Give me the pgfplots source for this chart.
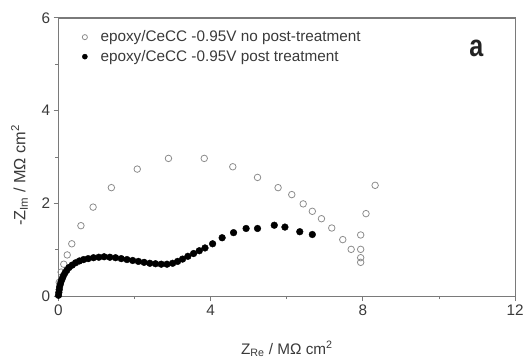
\documentclass[border=0pt]{standalone}
\usepackage{pgfplots}
\pgfplotsset{compat=1.18}
\usepackage{fontspec}
\setmainfont{Liberation Sans}
\definecolor{axgray}{HTML}{7A7A7A}
\definecolor{txtgray}{HTML}{3A3A3A}
\definecolor{opengray}{HTML}{8C8C8C}
\pgfplotsset{myleg/.style={legend image code/.code={\path (0cm,0cm) (0.78cm,0cm); \draw[mark repeat=2,mark phase=2,##1,mark size=2.6bp] plot coordinates {(0cm,0cm) (0.3cm,0cm) (0.6cm,0cm)};}}}
\begin{document}
\begin{tikzpicture}
\begin{axis}[
  scale only axis,
  width=461bp, height=281bp,
  xmin=0, xmax=12, ymin=0, ymax=6,
  xtick={0,4,8,12}, ytick={0,2,4,6},
  minor x tick num=1, minor y tick num=1,
  xtick pos=left, ytick pos=left,
  tick align=outside,
  major tick length=5bp, minor tick length=3bp,
  axis line style={axgray, line width=1.4bp},
  every tick/.style={axgray, line width=1bp},
  tick label style={font=\fontsize{15.5}{17}\selectfont, text=txtgray},
  /pgf/number format/assume math mode=true,
  xlabel={Z\textsubscript{Re} / MΩ cm\textsuperscript{2}},
  ylabel={-Z\textsubscript{Im} / MΩ cm\textsuperscript{2}},
  label style={font=\fontsize{15.5}{17}\selectfont, text=txtgray},
  xlabel style={at={(axis description cs:0.5,-0.15)}, anchor=north},
  ylabel style={at={(axis description cs:-0.085,0.434)}, anchor=center, font=\fontsize{16.5}{18}\selectfont},
  legend style={draw=none, fill=none, at={(axis description cs:0.032,0.968)}, anchor=north west,
    font=\fontsize{15.5}{17}\selectfont, text=txtgray, row sep=3bp},
  legend cell align=left,
  clip=false,
]
\addplot[only marks, myleg, mark=o, mark size=3.3bp, mark options={opengray, line width=0.8bp}] coordinates {
(0.02,0.30) (0.07,0.52) (0.14,0.69) (0.23,0.89) (0.35,1.13) (0.59,1.52) (0.91,1.92)
(1.39,2.34) (2.07,2.74) (2.89,2.97) (3.83,2.97) (4.58,2.79) (5.23,2.56) (5.77,2.34)
(6.13,2.19) (6.43,1.99) (6.67,1.83) (6.91,1.67) (7.18,1.47) (7.47,1.22) (7.69,1.01)
(7.94,1.01) (7.94,0.83) (7.94,0.73) (7.94,1.32) (8.08,1.78) (8.32,2.39)
};
\addlegendentry{epoxy/CeCC -0.95V no post-treatment}
\addplot[only marks, myleg, mark=*, mark size=3.4bp, mark options={black}] coordinates {
(0.00,0.02) (0.01,0.08) (0.02,0.14) (0.03,0.20) (0.05,0.26) (0.07,0.32) (0.10,0.38)
(0.13,0.44) (0.17,0.50) (0.22,0.56) (0.28,0.62) (0.36,0.67) (0.45,0.72) (0.55,0.76)
(0.66,0.79) (0.78,0.81) (0.92,0.83) (1.06,0.84) (1.20,0.85) (1.35,0.84) (1.50,0.83)
(1.65,0.81) (1.80,0.79) (1.95,0.77) (2.10,0.75) (2.25,0.73) (2.40,0.71) (2.55,0.70)
(2.70,0.69) (2.85,0.69) (3.00,0.71) (3.13,0.75) (3.26,0.80) (3.40,0.86) (3.55,0.92)
(3.70,0.98) (3.85,1.04) (4.05,1.13) (4.30,1.26) (4.60,1.37) (4.93,1.46) (5.23,1.46)
(5.67,1.53) (5.95,1.49) (6.34,1.39) (6.67,1.33)
};
\addlegendentry{epoxy/CeCC -0.95V post treatment}
\node[font=\bfseries\fontsize{31}{33}\selectfont, text=txtgray!60!black, xscale=0.82, transform shape] at (axis description cs:0.915,0.89) {a};
\path (axis description cs:-0.128,-0.242) rectangle (axis description cs:1.0152,1.064);
\end{axis}
\end{tikzpicture}
\end{document}
